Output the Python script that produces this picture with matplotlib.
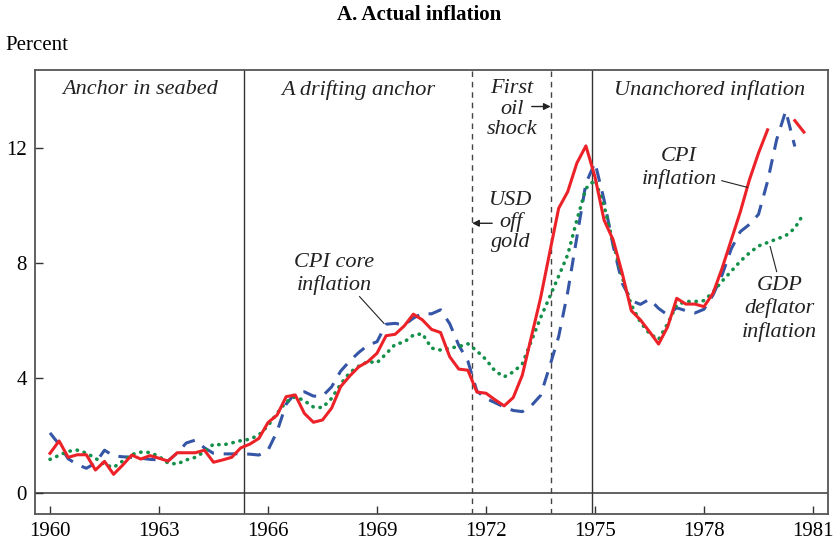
import numpy as np
import matplotlib
matplotlib.use("Agg")
import matplotlib.pyplot as plt

plt.rcParams['font.family'] = ['Liberation Serif', 'DejaVu Serif']

# quarterly data, 1960Q1 .. 1980Q4
years = 1960 + 0.25 * np.arange(84)

cpi = [1.39, 1.82, 1.25, 1.34, 1.34, 0.81, 1.11, 0.66, 0.98, 1.33, 1.19, 1.31,
       1.22, 1.12, 1.41, 1.41, 1.41, 1.50, 1.08, 1.16, 1.25, 1.58, 1.71, 1.91,
       2.46, 2.72, 3.36, 3.42, 2.78, 2.47, 2.55, 2.96, 3.71, 4.08, 4.40, 4.58,
       4.87, 5.48, 5.53, 5.82, 6.23, 6.03, 5.70, 5.59, 4.75, 4.32, 4.28, 3.52,
       3.48, 3.25, 3.04, 3.33, 4.11, 5.45, 6.78, 8.35, 9.91, 10.49, 11.48, 12.08,
       11.00, 9.50, 8.81, 7.65, 6.35, 6.03, 5.62, 5.19, 5.79, 6.78, 6.58, 6.58,
       6.49, 6.96, 7.83, 8.81, 9.79, 10.90, 11.83, 12.64, np.nan, np.nan, 12.96, 12.56]

cpi_core = [2.10, 1.70, 1.20, 1.00, 0.87, 1.05, 1.50, 1.30, 1.27, 1.25, 1.22, 1.18,
            1.16, 1.13, 1.40, 1.75, 1.85, 1.58, 1.39, 1.37, 1.37, 1.38, 1.36, 1.33,
            1.50, 2.15, 3.10, 3.48, 3.53, 3.38, 3.38, 3.70, 4.25, 4.60, 4.90, 5.15,
            5.27, 5.88, 5.91, 5.85, 6.09, 6.26, 6.24, 6.38, 5.90, 5.15, 4.60, 3.55,
            3.30, 3.15, 3.00, 2.88, 2.84, 3.05, 3.40, 4.40, 5.45, 7.00, 8.90, 10.78,
            11.50, 10.20, 8.60, 7.30, 6.70, 6.57, 6.75, 6.43, 6.20, 6.45, 6.35, 6.27,
            6.40, 6.90, 7.60, 8.50, 9.10, 9.35, 9.70, 10.85, 12.30, 13.30, 12.06, np.nan]

gdp_defl = [1.18, 1.32, 1.46, 1.50, 1.40, 1.22, 1.00, 0.90, 1.12, 1.35, 1.43, 1.42,
            1.28, 1.05, 1.02, 1.16, 1.25, 1.45, 1.71, 1.68, 1.75, 1.83, 1.88, 2.03,
            2.35, 2.78, 3.18, 3.36, 3.22, 3.00, 2.98, 3.30, 3.80, 4.20, 4.42, 4.58,
            4.54, 4.85, 5.18, 5.26, 5.50, 5.55, 5.05, 4.98, 5.05, 5.10, 5.20, 4.95,
            4.65, 4.25, 4.05, 4.22, 4.50, 5.30, 6.10, 6.82, 7.55, 8.30, 9.50, 10.60,
            10.90, 10.00, 8.70, 7.50, 6.55, 5.95, 5.55, 5.35, 5.90, 6.55, 6.67, 6.67,
            6.70, 7.00, 7.38, 7.72, 8.07, 8.36, 8.60, 8.72, 8.84, 8.96, 9.22, 9.74]

xticks = [1960, 1963, 1966, 1969, 1972, 1975, 1978, 1981]
yticks = [0, 4, 8, 12]
regime_breaks = [1965.35, 1974.93]
event_lines = [1971.62, 1973.78]

red = '#ec2228'
blue = '#3556a6'
green = '#14904a'
frame = '#555555'

fig = plt.figure(figsize=(8.38, 5.48), dpi=100)
ax = fig.add_axes([35/838, 1-514/548, (828-35)/838, (514-70)/548])

ax.axhline(0, color=frame, lw=1.3, zorder=1)
for x in regime_breaks:
    ax.axvline(x, color='#333333', lw=1.0, zorder=1)
for x in event_lines:
    ax.axvline(x, color='#444444', lw=1.0, ls=(0, (4, 3.5)), zorder=1)

ax.plot(years, cpi_core, color=blue, lw=2.2, dashes=(4.5, 3.2), zorder=3)
ax.plot(years, gdp_defl, color=green, lw=2.6, ls=(0, (0.1, 1.9)),
        dash_capstyle='round', zorder=3)
ax.plot(years, cpi, color=red, lw=2.2, zorder=4)

ax.set_xlim(1959.587, 1981.413)
ax.set_ylim(-0.72, 14.72)
ax.set_xticks(xticks)
ax.set_yticks(yticks)
ax.tick_params(direction='in', length=5.5, width=1.0, color='#333333',
               labelsize=15, pad=6)
for s in ax.spines.values():
    s.set_color(frame)
    s.set_linewidth(1.3)

it = dict(fontsize=16, fontstyle='italic', color='#222222', ha='center', va='center')
ax.text(1962.48, 14.03, 'Anchor in seabed', **it)
ax.text(1968.49, 14.03, 'A drifting anchor', **it)
ax.text(1978.14, 14.03, 'Unanchored inflation', **it)
ax.text(1972.72, 13.36, 'First\noil\nshock', linespacing=1.1, **it)
ax.text(1972.68, 9.44, 'USD\noff\ngold', linespacing=1.1, **it)
ax.text(1967.82, 7.63, 'CPI core\ninflation', linespacing=1.2, **it)
ax.text(1977.31, 11.31, 'CPI\ninflation', linespacing=1.2, **it)
ax.text(1980.08, 6.41, 'GDP\ndeflator\ninflation', linespacing=1.25, **it)

arrow = dict(arrowstyle='-|>', color='#222222', lw=1.0, mutation_scale=10,
             shrinkA=0, shrinkB=0)
ax.annotate('', xy=(event_lines[1], 13.45), xytext=(1973.26, 13.45), arrowprops=arrow)
ax.annotate('', xy=(event_lines[0], 9.39), xytext=(1972.17, 9.39), arrowprops=arrow)

ax.plot([1968.52, 1969.19], [6.84, 5.91], color='#222222', lw=0.8, zorder=5)
ax.plot([1978.49, 1979.19], [10.87, 10.64], color='#222222', lw=0.8, zorder=5)
ax.plot([1979.82, 1980.0], [8.58, 7.71], color='#222222', lw=0.8, zorder=5)

fig.text(0.5, 1-15/548, 'A. Actual inflation', fontsize=15, fontweight='bold',
         ha='center', va='center')
fig.text(5/838, 1-46/548, 'Percent', fontsize=15, ha='left', va='center')

fig.savefig('out.png', dpi=100)
